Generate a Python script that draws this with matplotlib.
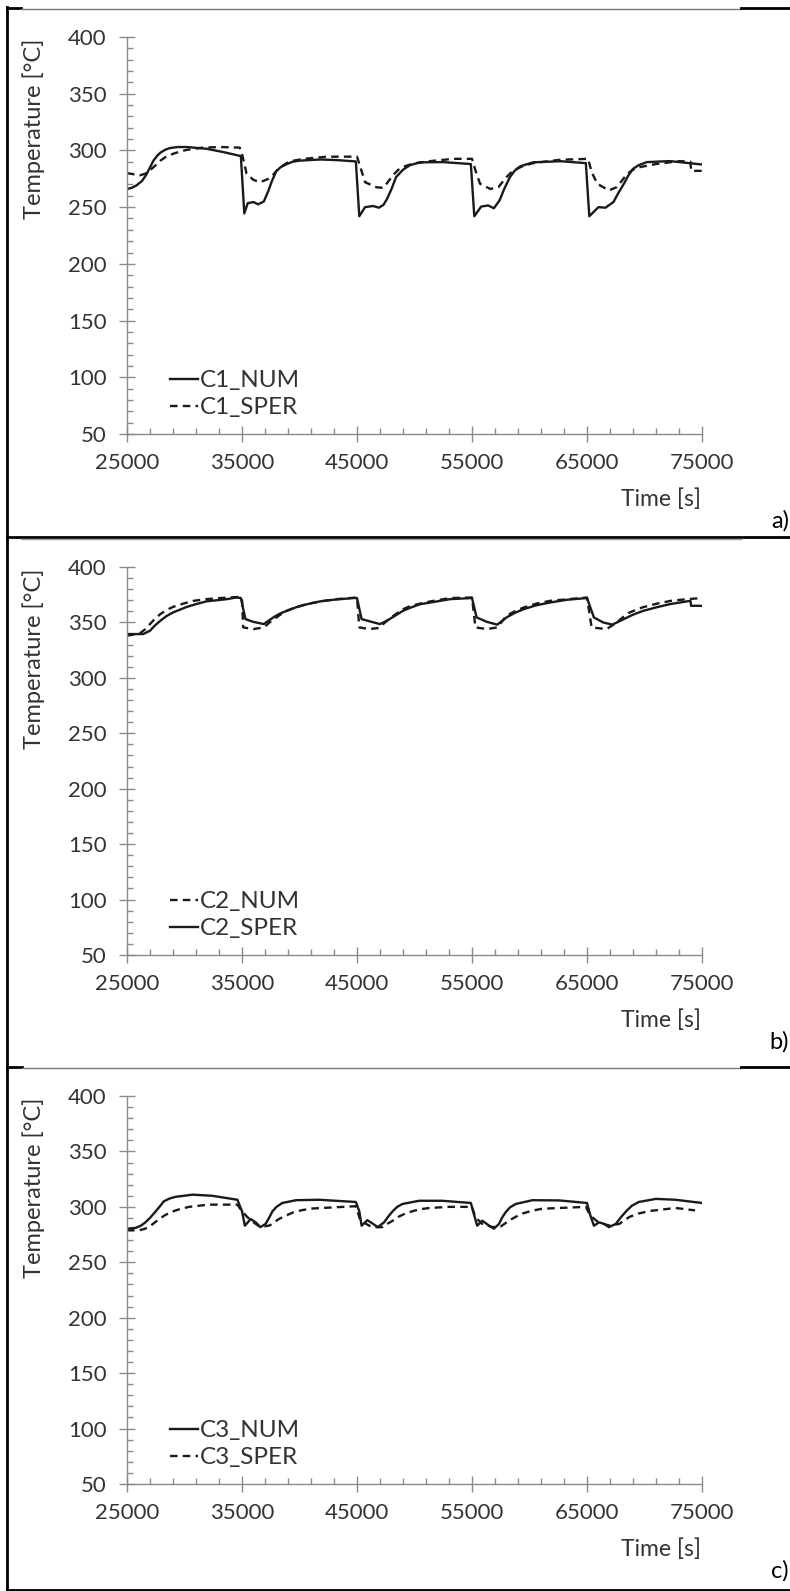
import matplotlib.pyplot as plt
from matplotlib.lines import Line2D

plt.rcParams['font.family'] = ['Lato', 'DejaVu Sans']

# ---- panel a) : C1 ----
t_c1_num = [25000, 25400, 25800, 26300, 26700, 27000, 27300, 27600, 27900, 28300, 28700, 29400, 30200,
            31900, 33400, 34900, 35200, 35500, 36000, 36400, 36900, 37300, 37600, 38000, 38400, 38900,
            39400, 40000, 41800, 43200, 44900, 45200, 45700, 46400, 46900, 47300, 47600, 48000, 48400,
            49000, 49600, 50500, 52500, 54900, 55200, 55800, 56400, 56900, 57400, 57800, 58300, 58700,
            59200, 60300, 62700, 64900, 65200, 66000, 66600, 67300, 67700, 68200, 68600, 69000, 69500,
            70200, 72200, 75000]
T_c1_num = [266, 267, 269, 273, 279, 285, 291, 295, 298, 300.5, 302, 303, 303,
            301.5, 298.5, 295, 244.5, 253.5, 254.5, 252.5, 255, 264.5, 273, 282, 285.5, 288,
            290, 291, 292, 291.5, 290.3, 242, 250, 251, 249.5, 252, 257, 266, 276.5,
            283, 287, 289.5, 289.7, 288, 242, 250.5, 251.5, 249, 256, 266, 276.5, 282,
            286, 289.5, 290.5, 288.8, 242, 250, 249.5, 254.5, 262, 270.5, 278, 283.8, 287,
            289.7, 290.6, 287.6]

t_c1_sper = [25000, 26100, 26600, 27000, 27500, 27900, 28400, 29000, 29600, 30200, 31600, 33100, 34800,
             35000, 35400, 36000, 36600, 37300, 37700, 38000, 38400, 38900, 39500, 40300, 42400, 45000,
             45300, 45700, 46700, 47300, 47900, 48300, 48700, 49300, 49900, 51400, 53400, 55000, 55300,
             55700, 56600, 57300, 58000, 58400, 58900, 59500, 60300, 62700, 65100, 65400, 65900, 66900,
             67600, 68500, 69000, 69600, 71100, 73100, 74000, 74050, 75000]
T_c1_sper = [280, 278, 279.5, 282.5, 287, 291, 294.5, 297, 299, 300.5, 302.5, 303, 302.5,
             297, 279.5, 274, 272, 275, 278.5, 282, 285.5, 289, 291, 292.5, 294.5, 294.5,
             285, 272, 267.5, 267, 275, 280, 284, 286.5, 288.5, 290.6, 292.6, 292.6, 282.4,
             270.6, 266, 267.7, 276.5, 280.5, 283.8, 286.5, 288.8, 291.8, 292.6, 281, 270.6, 264.7,
             267.7, 279.4, 283, 285.3, 288.2, 290.6, 290, 282, 282]

# ---- panel b) : C2 ----
t_c2_num = [25000, 26100, 26600, 27000, 27400, 27900, 28400, 29000, 29900, 30800, 31900, 33100, 34700,
            35000, 35100, 36000, 36900, 37400, 38000, 38600, 39500, 40600, 41800, 43200, 45000, 45200,
            46100, 46900, 47600, 48300, 49000, 49700, 50500, 51400, 53100, 55000, 55300, 56300, 57200,
            58000, 58700, 59500, 60600, 61800, 65000, 65400, 66700, 67600, 68100, 68700, 69800, 71100,
            72300, 73700, 75000]
T_c2_num = [338, 340, 344, 348.5, 353, 357.5, 361, 364, 367, 369.5, 371, 372, 373,
            372, 345.5, 344, 345.5, 350, 354.5, 359, 363, 366.5, 369, 371, 372.5, 345.5,
            344, 345, 351.5, 357, 362, 365, 367, 369, 372, 372.5, 345.5, 344, 345.5,
            356, 360, 363.5, 367, 369.5, 372.5, 345.5, 344, 350, 354.5, 359, 363.5, 367,
            369.5, 371, 372]

t_c2_sper = [25000, 26400, 27000, 27400, 27900, 28400, 29000, 29600, 30200, 31000, 31900, 33700, 34500,
             34900, 35300, 36000, 36900, 37300, 37800, 38300, 39000, 39800, 40700, 41800, 43000, 44700,
             45000, 45400, 46100, 47000, 47600, 48300, 49000, 49700, 50500, 51400, 53100, 55000, 55400,
             56300, 57200, 58000, 58700, 59500, 60600, 61800, 63300, 65000, 65600, 66400, 67200, 68200,
             69000, 69900, 71000, 72200, 74000, 74050, 75000]
T_c2_sper = [339.5, 339.5, 342.5, 347, 351.5, 355.5, 359, 361.5, 364, 366.5, 369, 371, 372.5,
             372, 353, 350.5, 348.5, 351.5, 355, 358, 361, 364, 366.5, 369, 370.5, 372,
             372, 353, 351, 348.5, 351.5, 356, 360.5, 363.5, 366.5, 368, 371, 372, 354.5,
             350.5, 348, 354.5, 358.5, 362, 365.5, 368, 370.5, 372, 354.5, 350, 348, 353,
             357, 360.5, 363.5, 366.5, 369.5, 365, 365]

# ---- panel c) : C3 ----
t_c3_num = [25000, 25750, 26200, 26600, 27000, 27500, 27900, 28200, 28700, 29200, 30700, 32400, 34600,
            35000, 35250, 35750, 36200, 36600, 37050, 37350, 37650, 38000, 38500, 39700, 41700, 44900,
            45200, 45400, 45900, 46350, 46800, 47350, 47700, 48100, 48500, 48950, 50400, 52400, 54900,
            55200, 55450, 55900, 56500, 56900, 57350, 57600, 57900, 58300, 58800, 60250, 62600, 65000,
            65300, 65600, 66050, 66500, 66900, 67500, 67900, 68400, 68900, 69500, 71000, 72700, 75000]
T_c3_num = [280.3, 281, 283, 286, 290, 296, 301, 305, 307.5, 309, 311, 310, 306.4,
            296, 283, 289, 286, 281.7, 284.6, 290, 296, 300, 303.5, 306, 306.4, 304.4,
            296, 283, 288, 285, 281.7, 286, 291, 296, 300, 302.6, 305.5, 305.5, 303.5,
            292, 283, 287.5, 283, 280.3, 284.6, 290, 294.8, 299.5, 302.6, 306, 305.8, 303.5,
            292, 283, 286, 284.6, 281.7, 284.6, 290, 296, 301, 304.4, 307.2, 306.4, 303.5]

t_c3_sper = [25000, 26000, 26500, 26900, 27300, 27800, 28300, 28900, 29600, 30400, 32100, 34600, 35000,
             35500, 36000, 36600, 37400, 37800, 38200, 38800, 39400, 40200, 41100, 44900, 45300, 46300,
             47200, 47600, 48100, 48600, 49200, 49800, 50400, 51300, 53000, 55000, 55300, 55900, 56800,
             57500, 57800, 58200, 58800, 59400, 60200, 61100, 64900, 65300, 66000, 66900, 67800, 68200,
             68700, 69500, 70400, 72700, 74400]
T_c3_sper = [278.8, 278.8, 280, 281.7, 285, 289, 292.5, 295.6, 298, 300, 302, 302, 296,
             290.4, 286, 281.7, 283.2, 286, 289, 292, 294.8, 297, 298.5, 300.6, 287.5, 281.7,
             281.7, 284.5, 287.5, 291, 294, 296, 297.7, 299, 300, 300, 290.4, 284.6, 281.7,
             282.3, 284.5, 287.5, 291, 294, 296.5, 298.3, 300, 292, 286, 283.2, 284.6, 287.5,
             291, 294, 296.2, 299, 296.8]

x_major = [25000, 35000, 45000, 55000, 65000, 75000]
panel_letters = ['a)', 'b)', 'c)']

W, H = 790, 1591
fig = plt.figure(figsize=(W / 100, H / 100), dpi=100)

def fx(x):
    return x / W

def fy(y):
    return 1 - y / H

line_col = '#1a1a1a'
axis_col = '#8a8a8a'
text_col = '#333333'
solid = dict(color=line_col, lw=1.7, linestyle='-')
dashed = dict(color=line_col, lw=1.7, linestyle=(0, (3.2, 2.2)))

# (top, bottom) of each plot area in pixels
rects = [(37, 434), (567, 955), (1096, 1484)]

series = [
    [(t_c1_num, T_c1_num, solid, 'C1_NUM'), (t_c1_sper, T_c1_sper, dashed, 'C1_SPER')],
    [(t_c2_num, T_c2_num, dashed, 'C2_NUM'), (t_c2_sper, T_c2_sper, solid, 'C2_SPER')],
    [(t_c3_num, T_c3_num, solid, 'C3_NUM'), (t_c3_sper, T_c3_sper, dashed, 'C3_SPER')],
]

for i, (top, bot) in enumerate(rects):
    ax = fig.add_axes([fx(127), fy(bot), fx(702) - fx(127), (bot - top) / H])
    for t, T, st, lab in series[i]:
        ax.plot(t, T, label=lab, **st)

    ax.set_xlim(25000, 75000)
    ax.set_ylim(50, 400)
    ax.set_xticks(x_major)
    ax.set_xticks([x for x in range(25000, 75001, 2000)], minor=True)
    ax.set_yticks(range(50, 401, 50))
    ax.set_yticks(range(50, 401, 10), minor=True)
    for s in ['top', 'right']:
        ax.spines[s].set_visible(False)
    for s in ['left', 'bottom']:
        ax.spines[s].set_color(axis_col)
        ax.spines[s].set_linewidth(1)
    ax.tick_params(which='major', direction='inout', length=11, width=1, color=axis_col,
                   labelsize=16, labelcolor=text_col)
    ax.tick_params(which='minor', direction='in', length=4.5, width=1, color=axis_col)
    ax.tick_params(axis='x', which='major', pad=8)
    ax.tick_params(axis='y', which='major', pad=9)

    ax.set_ylabel('Temperature [°C]', fontsize=17, color=text_col)
    ax.yaxis.set_label_coords((45 - 127) / 575, 1 - 92 / (bot - top))

    fig.text(fx(701), fy(bot + 65), 'Time [s]', ha='right', va='center', fontsize=16.5, color=text_col)
    fig.text(fx(789), fy(bot + 87), panel_letters[i], ha='right', va='center', fontsize=17, color='black')

    ax.legend(loc='lower left', bbox_to_anchor=(0.074, 0.04), frameon=False, fontsize=17.5,
              handlelength=1.15, handletextpad=0.1, labelspacing=0.25, borderpad=0, borderaxespad=0,
              labelcolor=text_col)

# table-like frame around the three panels
def hline(y, x0, x1, col, lw):
    fig.add_artist(Line2D([fx(x0), fx(x1)], [fy(y), fy(y)], color=col, lw=lw, transform=fig.transFigure))

hline(8, 7, 21, 'black', 2)
hline(8.5, 21, 741, '#7a7a7a', 1)
hline(8, 741, 790, 'black', 2)
hline(537, 7, 790, 'black', 2)
hline(539, 21, 741, '#9a9a9a', 1)
hline(1067, 7, 22, 'black', 2)
hline(1067.5, 22, 741, '#7a7a7a', 1)
hline(1067, 741, 790, 'black', 2)
hline(1590, 7, 790, 'black', 2)
fig.add_artist(Line2D([fx(7), fx(7)], [fy(7), fy(1591)], color='black', lw=2, transform=fig.transFigure))

plt.savefig('out.png', dpi=100)
